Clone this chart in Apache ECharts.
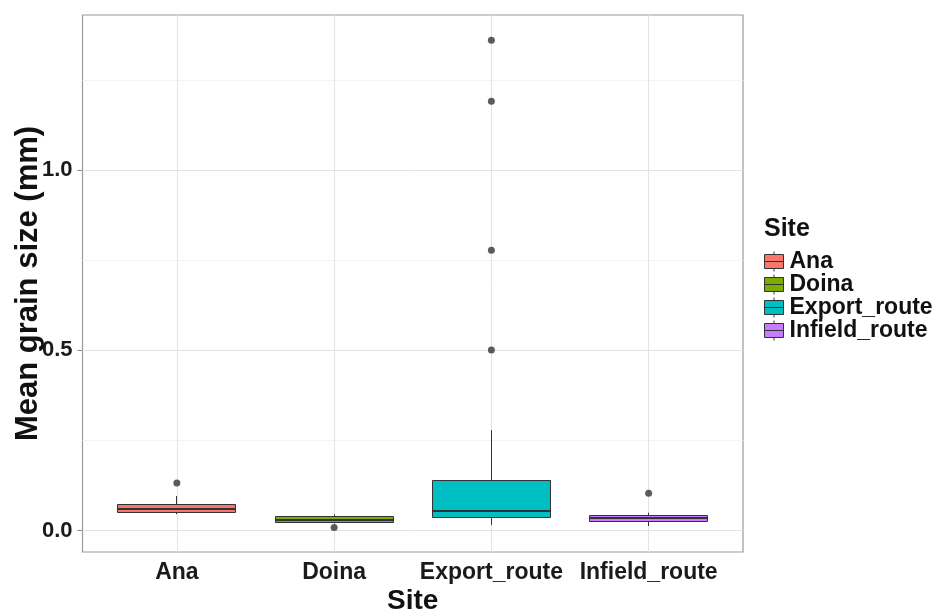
<!DOCTYPE html>
<html>
<head>
<meta charset="utf-8">
<script src="https://cdn.jsdelivr.net/npm/echarts@6/dist/echarts.min.js"></script>
<style>html,body{margin:0;padding:0;background:#fff;}#c{width:941px;height:610px;}</style>
</head>
<body>
<div id="c"></div>
<script>
// ---- data ----
const categories = ['Ana', 'Doina', 'Export_route', 'Infield_route'];
const lowerWhisker = [0.046, 0.020, 0.016, 0.013];
const q1Values     = [0.050, 0.023, 0.036, 0.028];
const medianValues = [0.061, 0.031, 0.055, 0.035];
const q3Values     = [0.073, 0.039, 0.138, 0.0435];
const upperWhisker = [0.096, 0.045, 0.279, 0.050];
const outliersAna = [0.132];
const outliersDoina = [0.009];
const outliersExport = [1.360, 1.191, 0.778, 0.501];
const outliersInfield = [0.104];
const yTickValues = [0.0, 0.5, 1.0];
const yMinorValues = [0.25, 0.75, 1.25];
const fillColors = ['#F8766D', '#7CAE00', '#00BFC4', '#C77CFF'];

const outlierGroups = [outliersAna, outliersDoina, outliersExport, outliersInfield];
const FONT = "'Liberation Sans', Arial, sans-serif";

function crisp(v) { return Math.round(v - 0.5) + 0.5; }

function renderBox(params, api) {
  const x = api.value(0);
  const lo = api.value(1), q1 = api.value(2), med = api.value(3), q3 = api.value(4), hi = api.value(5);
  const half = api.size([0.75, 0])[0] / 2;
  const pLo = api.coord([x, lo]), pQ1 = api.coord([x, q1]), pMed = api.coord([x, med]);
  const pQ3 = api.coord([x, q3]), pHi = api.coord([x, hi]);
  const cx = crisp(pMed[0]);
  const stroke = '#333333';
  return {
    type: 'group',
    children: [
      { type: 'line', shape: { x1: cx, y1: pHi[1], x2: cx, y2: pQ3[1] }, style: { stroke: stroke, lineWidth: 1 } },
      { type: 'line', shape: { x1: cx, y1: pQ1[1], x2: cx, y2: pLo[1] }, style: { stroke: stroke, lineWidth: 1 } },
      { type: 'rect', shape: { x: crisp(cx - half), y: crisp(pQ3[1]), width: Math.round(half * 2), height: Math.round(pQ1[1] - pQ3[1]) },
        style: { fill: api.visual('color'), stroke: stroke, lineWidth: 1 } },
      { type: 'line', shape: { x1: cx - half, y1: Math.round(pMed[1]), x2: cx + half, y2: Math.round(pMed[1]) }, style: { stroke: stroke, lineWidth: 2 } }
    ]
  };
}

const boxSeries = categories.map((name, i) => ({
  name: name,
  type: 'custom',
  z: 3,
  itemStyle: { color: fillColors[i] },
  renderItem: renderBox,
  encode: { x: 0, y: [1, 2, 3, 4, 5] },
  data: [[i + 1, lowerWhisker[i], q1Values[i], medianValues[i], q3Values[i], upperWhisker[i]]]
}));

const outlierData = [];
outlierGroups.forEach((g, i) => g.forEach(v => outlierData.push([i + 1, v])));

const legendIcon = 'path://M10.5,0 L10.5,3 M1,3 L20,3 L20,17 L1,17 Z M1,10 L20,10 M10.5,17 L10.5,20';

const gridSeries = {
  type: 'line',
  data: [],
  z: 1,
  silent: true,
  markLine: {
    silent: true,
    z: 1,
    symbol: 'none',
    label: { show: false },
    animation: false,
    data: [
      ...yMinorValues.map(v => ({ yAxis: v, lineStyle: { color: '#f3f3f3', width: 1, type: 'solid' } })),
      ...yTickValues.map(v => ({ yAxis: v, lineStyle: { color: '#e3e3e3', width: 1, type: 'solid' } })),
      ...categories.map((c, i) => ({ xAxis: i + 1, lineStyle: { color: '#e3e3e3', width: 1, type: 'solid' } }))
    ]
  }
};

const chart = echarts.init(document.getElementById('c'), null, { renderer: 'canvas' });
chart.setOption({
  animation: false,
  backgroundColor: '#ffffff',
  textStyle: { fontFamily: FONT },
  title: {
    text: 'Site', left: 764, top: 217, padding: 0,
    textStyle: { fontFamily: FONT, fontSize: 25, fontWeight: 'bold', color: '#111' }
  },
  legend: {
    orient: 'vertical', left: 764, top: 250, padding: 0,
    itemWidth: 21, itemHeight: 20, itemGap: 0,
    selectedMode: false,
    data: categories.map(c => ({ name: c, icon: legendIcon })),
    itemStyle: { borderColor: '#333333', borderWidth: 1 },
    textStyle: { fontFamily: FONT, fontSize: 23, fontWeight: 'bold', color: '#111', padding: [0, 0, 0, 0] }
  },
  grid: {
    left: 82.5, right: 198, top: 15, bottom: 58,
    outerBoundsMode: 'none', containLabel: false,
    show: true, backgroundColor: '#ffffff', borderColor: '#9a9a9a', borderWidth: 1.2
  },
  xAxis: {
    type: 'value', min: 0.4, max: 4.6,
    name: 'Site', nameLocation: 'middle', nameGap: 35, nameMoveOverlap: false,
    nameTextStyle: { fontFamily: FONT, fontSize: 28, fontWeight: 'bold', color: '#111' },
    axisLine: { show: false },
    splitLine: { show: false },
    axisTick: { show: true, length: 5, customValues: [1, 2, 3, 4], lineStyle: { color: '#8a8a8a' } },
    axisLabel: {
      customValues: [1, 2, 3, 4], margin: 9,
      fontFamily: FONT, fontSize: 23, fontWeight: 'bold', color: '#1a1a1a',
      formatter: v => categories[Math.round(v) - 1] || ''
    }
  },
  yAxis: {
    type: 'value', min: -0.059, max: 1.43,
    name: 'Mean grain size (mm)', nameLocation: 'middle', nameGap: 39, nameRotate: 90, nameMoveOverlap: false,
    nameTextStyle: { fontFamily: FONT, fontSize: 31, fontWeight: 'bold', color: '#111' },
    axisLine: { show: false },
    splitLine: { show: false },
    axisTick: { show: true, length: 5, customValues: yTickValues, lineStyle: { color: '#8a8a8a' } },
    axisLabel: {
      customValues: yTickValues, margin: 10,
      fontFamily: FONT, fontSize: 22, fontWeight: 'bold', color: '#1a1a1a',
      formatter: v => v.toFixed(1)
    }
  },
  series: [
    gridSeries,
    ...boxSeries,
    {
      type: 'scatter', z: 4, symbolSize: 7,
      itemStyle: { color: '#333333' },
      data: outlierData
    }
  ]
});
</script>
</body>
</html>
